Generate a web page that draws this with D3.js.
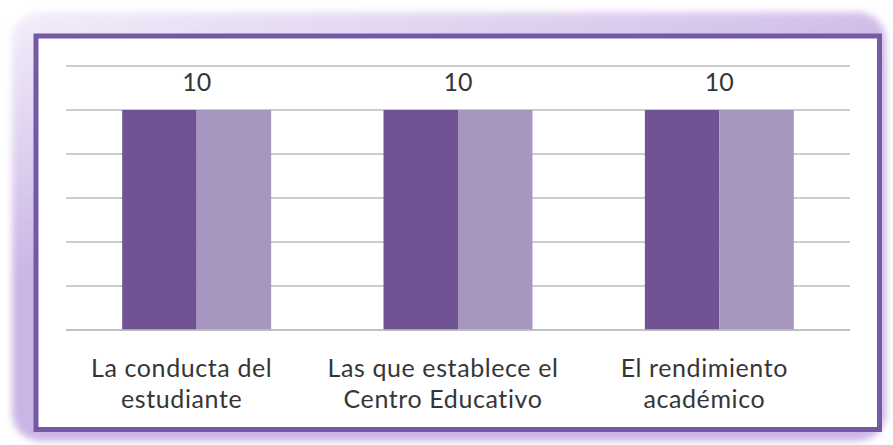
<!DOCTYPE html>
<html><head><meta charset="utf-8">
<script src="https://cdn.jsdelivr.net/npm/d3@7"></script>
<style>html,body{margin:0;padding:0;background:#fff;}svg{display:block;}</style>
</head><body>
<svg id="chart" width="893" height="445"></svg>
<script>
const categories = [["La conducta del","estudiante"],["Las que establece el","Centro Educativo"],["El rendimiento","académico"]];
const seriesA = [10, 10, 10];
const seriesB = [10, 10, 10];
const dataLabels = ["10", "10", "10"];
const yTicks = [0, 2, 4, 6, 8, 10, 12];

const svg = d3.select("#chart");
const defs = svg.append("defs");
const g1 = defs.append("linearGradient").attr("id","glow").attr("x1","0").attr("y1","0").attr("x2","0.25").attr("y2","0.5");
g1.append("stop").attr("offset","0").attr("stop-color","#f3eefa");
g1.append("stop").attr("offset","1").attr("stop-color","#cbb5e5");
const blur = defs.append("filter").attr("id","blur").attr("x","-5%").attr("y","-5%").attr("width","110%").attr("height","110%");
blur.append("feGaussianBlur").attr("stdDeviation","3.5");

svg.append("rect").attr("x",12).attr("y",12).attr("width",874).attr("height",429).attr("rx",28)
  .attr("fill","url(#glow)").attr("filter","url(#blur)");
svg.append("rect").attr("x",36).attr("y",36).attr("width",843.5).attr("height",393.5)
  .attr("fill","#ffffff").attr("stroke","#7559a4").attr("stroke-width",5);

const margin = {left:66, right:850, top:66, bottom:330};
const x0 = d3.scaleBand().domain(d3.range(categories.length)).range([margin.left, margin.right]).paddingInner(0.43).paddingOuter(0.215);
const x1 = d3.scaleBand().domain([0,1]).range([0, x0.bandwidth()]);
const y = d3.scaleLinear().domain([0, 12]).range([margin.bottom, margin.top]);

svg.append("g").selectAll("line").data(yTicks).join("line")
  .attr("x1", margin.left).attr("x2", margin.right)
  .attr("y1", d => y(d)).attr("y2", d => y(d))
  .attr("stroke", "#bdbdbd").attr("stroke-width", 1.6);

const colors = ["#6f5392", "#a797c0"];
const series = [seriesA, seriesB];
series.forEach((s, si) => {
  svg.append("g").selectAll("rect").data(s).join("rect")
    .attr("x", (d,i) => x0(i) + x1(si))
    .attr("width", x1.bandwidth())
    .attr("y", d => y(d))
    .attr("height", d => y(0) - y(d))
    .attr("fill", colors[si]);
});
svg.append("line").attr("x1", margin.left).attr("x2", margin.right).attr("y1", y(0)).attr("y2", y(0))
  .attr("stroke","#bdbdbd").attr("stroke-width",1.6);

svg.append("g").selectAll("text").data(seriesA).join("text")
  .attr("x", (d,i) => x0(i) + x0.bandwidth()/2)
  .attr("y", d => y(d) - 19)
  .attr("text-anchor","middle")
  .attr("font-family","Lato, 'Open Sans', sans-serif")
  .attr("font-size", 25).attr("fill","#363636")
  .text((d,i) => dataLabels[i]);

const lab = svg.append("g").selectAll("text").data(categories).join("text")
  .attr("text-anchor","middle")
  .attr("font-family","Lato, 'Open Sans', sans-serif")
  .attr("letter-spacing", 0.6)
  .attr("font-size", 25).attr("fill","#363636");
lab.each(function(lines, i){
  const t = d3.select(this);
  lines.forEach((ln, k) => {
    t.append("tspan").attr("x", x0(i) + x0.bandwidth()/2 - 15).attr("y", y(0) + 47 + k*30.5).text(ln);
  });
});
</script>
</body></html>
